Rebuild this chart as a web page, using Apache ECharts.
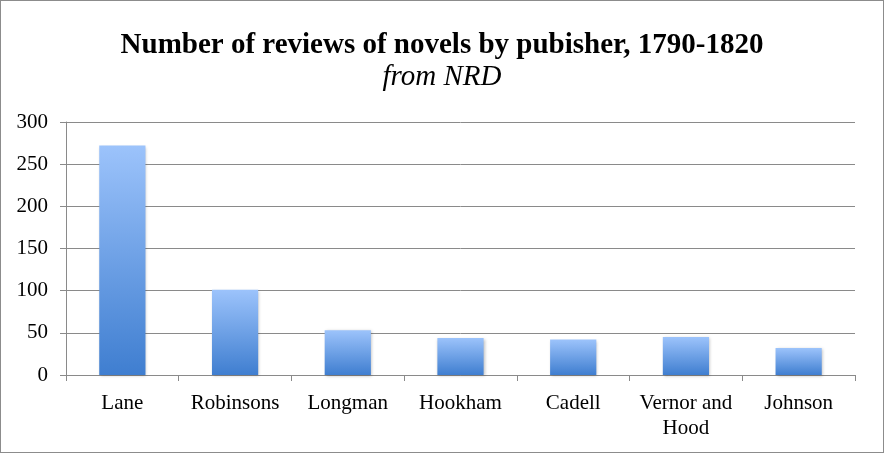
<!DOCTYPE html>
<html><head><meta charset="utf-8">
<script src="https://cdn.jsdelivr.net/npm/echarts@6/dist/echarts.min.js"></script>
<style>html,body{margin:0;padding:0;background:#fff}#c{width:882px;height:451px;border:1px solid #8c8c8c}</style>
</head><body><div id="c"></div>
<script>
const categories = ['Lane','Robinsons','Longman','Hookham','Cadell','Vernor and\nHood','Johnson'];
const reviews = [272,101,53,44,42,45,32];
const yTicks = {min:0,max:300,interval:50};
const chart = echarts.init(document.getElementById('c'));
chart.setOption({
  animation:false,
  title:{text:'Number of reviews of novels by pubisher, 1790-1820',subtext:'from NRD',left:'center',top:25,itemGap:3,
    textStyle:{fontFamily:'Liberation Serif',fontWeight:'bold',fontSize:29,color:'#000'},
    subtextStyle:{fontFamily:'Liberation Serif',fontStyle:'italic',fontSize:29,color:'#000'}},
  grid:{left:65,right:28,top:121,bottom:77,containLabel:false},
  xAxis:{type:'category',data:categories,
    axisLine:{lineStyle:{color:'#8a8a8a',width:1}},
    axisTick:{show:true,length:6,lineStyle:{color:'#8a8a8a'}},
    axisLabel:{fontFamily:'Liberation Serif',fontSize:21,color:'#000',margin:16,lineHeight:25,interval:0}},
  yAxis:{type:'value',min:yTicks.min,max:yTicks.max,interval:yTicks.interval,
    axisLine:{show:true,lineStyle:{color:'#8a8a8a'}},
    axisTick:{show:true,length:6,lineStyle:{color:'#8a8a8a'}},
    splitLine:{lineStyle:{color:'#8a8a8a',width:1}},
    axisLabel:{fontFamily:'Liberation Serif',fontSize:21,color:'#000',margin:18}},
  series:[{type:'bar',data:reviews,barWidth:'41%',
    itemStyle:{color:new echarts.graphic.LinearGradient(0,0,0,1,[{offset:0,color:'#9cc3fb'},{offset:1,color:'#3f7ed0'}]),
      shadowColor:'rgba(0,0,0,0.25)',shadowBlur:3,shadowOffsetX:1,shadowOffsetY:1}}]
});
</script></body></html>
